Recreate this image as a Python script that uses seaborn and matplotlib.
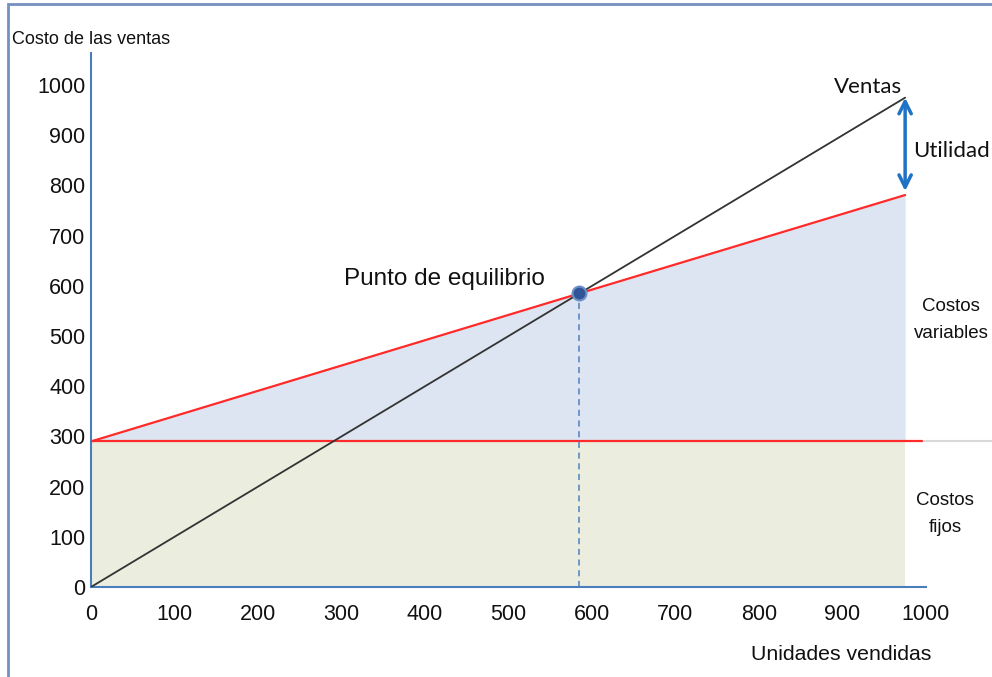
import matplotlib
matplotlib.use("Agg")
import matplotlib.pyplot as plt
from matplotlib.patches import Rectangle
import seaborn as sns
import pandas as pd

# ---------------- data ----------------
unidades = [0, 585, 975]
ventas = [0, 585, 975]
costos_totales = [290, 585, 781]
costo_fijo = 290
fijo_x = [0, 995]
equilibrio = (585, 585)
x_ticks = [0, 100, 200, 300, 400, 500, 600, 700, 800, 900, 1000]
y_ticks = [0, 100, 200, 300, 400, 500, 600, 700, 800, 900, 1000]

df = pd.DataFrame({"unidades": unidades, "ventas": ventas, "costos": costos_totales})

sns.set_theme(style="white")
ARIAL = ["Liberation Sans", "DejaVu Sans"]
CAL = ["Lato", "DejaVu Sans"]
plt.rcParams["font.family"] = ARIAL

W, H = 992, 677
fig = plt.figure(figsize=(W / 100, H / 100), dpi=100)
fig.patch.set_facecolor("white")


def px(x, y):
    return x / W, 1 - y / H


ax = fig.add_axes([91 / W, (H - 587) / H, (926 - 91) / W, (587 - 53) / H])
ax.set_xlim(0, 1000)
ax.set_ylim(0, 1064)

# fills
ax.fill_between([0, unidades[-1]], 0, costo_fijo, color="#ebeedf", lw=0, zorder=1)
ax.fill_between(df["unidades"], costo_fijo, df["costos"], color="#dce5f1", lw=0, zorder=1)

# lines
ax.plot(fijo_x, [costo_fijo, costo_fijo], color="#ff2a2a", lw=1.6, zorder=3)
ax.plot([fijo_x[-1], 1079], [costo_fijo, costo_fijo], color="#d9d9d9", lw=1.5,
        zorder=2, clip_on=False)
sns.lineplot(data=df, x="unidades", y="costos", ax=ax, color="#ff2a2a", lw=1.6, zorder=3)
sns.lineplot(data=df, x="unidades", y="ventas", ax=ax, color="#333333", lw=1.3, zorder=4)

# break-even
ax.plot([equilibrio[0], equilibrio[0]], [0, equilibrio[1]], color="#4f81bd",
        lw=1.1, ls=(0, (4, 3)), zorder=3)
ax.plot([equilibrio[0]], [equilibrio[1]], marker="o", ms=10, mfc="#2f5597",
        mec="#6d8fc7", mew=1.5, zorder=6)

# utilidad arrow
ax.annotate("", xy=(unidades[-1], ventas[-1]), xytext=(unidades[-1], costos_totales[-1] + 8),
            arrowprops=dict(arrowstyle="<->", color="#1f72c4", lw=2.5,
                            mutation_scale=22, shrinkA=0, shrinkB=0), zorder=5)

# axes styling
for s in ["top", "right"]:
    ax.spines[s].set_visible(False)
for s in ["left", "bottom"]:
    ax.spines[s].set_color("#4a7ebb")
    ax.spines[s].set_linewidth(1.5)
ax.set_xticks(x_ticks)
ax.set_yticks(y_ticks)
ax.set_xticklabels([str(v) for v in x_ticks], fontsize=15.5, family=ARIAL, color="#111111")
ax.set_yticklabels([str(v) for v in y_ticks], fontsize=15.5, family=ARIAL, color="#111111")
ax.tick_params(axis="x", length=0, pad=12)
ax.tick_params(axis="y", length=0, pad=4)
ax.set_xlabel("")
ax.set_ylabel("")

# texts
fig.text(*px(12, 40), "Costo de las ventas", fontsize=13, family=ARIAL,
         ha="left", va="center", color="#111111")
fig.text(*px(841, 655), "Unidades vendidas", fontsize=15.3, family=ARIAL,
         ha="center", va="center", color="#111111")
fig.text(*px(444, 279), "Punto de equilibrio", fontsize=17.5, family=ARIAL,
         ha="center", va="center", color="#111111")
fig.text(*px(868, 87), "Ventas", fontsize=16, family=CAL,
         ha="center", va="center", color="#111111")
fig.text(*px(913, 151), "Utilidad", fontsize=16, family=CAL,
         ha="left", va="center", color="#111111")
fig.text(*px(951, 320), "Costos\nvariables", fontsize=13.5, family=ARIAL,
         ha="center", va="center", color="#111111", linespacing=1.8)
fig.text(*px(945, 514), "Costos\nfijos", fontsize=13.5, family=ARIAL,
         ha="center", va="center", color="#111111", linespacing=1.8)

# outer frame
fig.add_artist(Rectangle(px(8, 700), 2, (700 - 4) / H, transform=fig.transFigure,
                         fill=False, ec="#7391c0", lw=2, zorder=10))

fig.savefig("out.png", dpi=100)
